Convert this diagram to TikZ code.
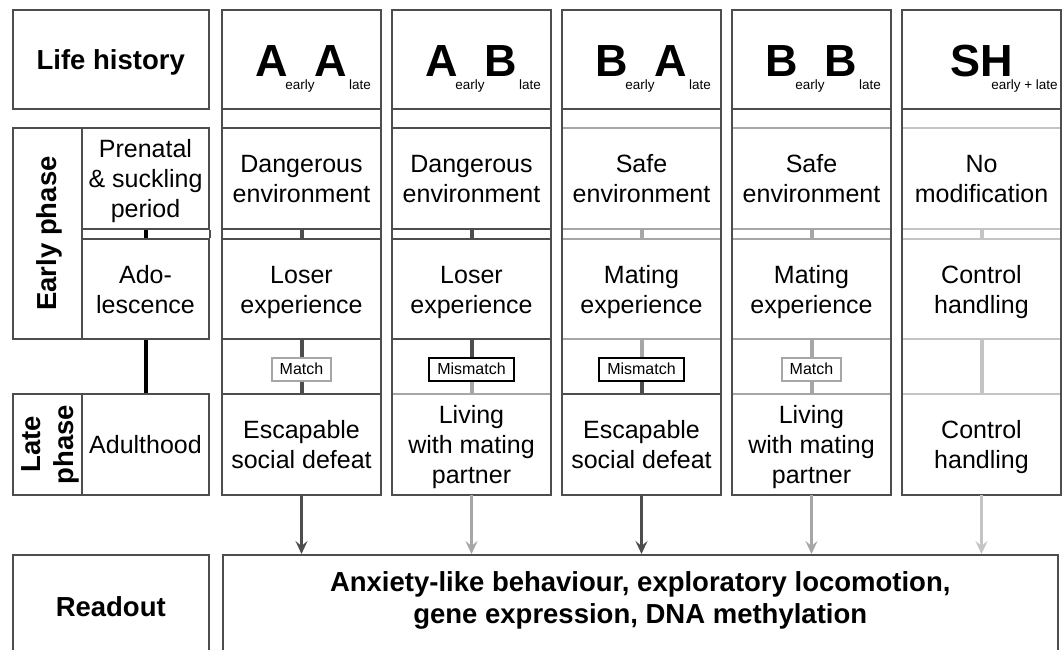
\documentclass[tikz,border=0pt]{standalone}
\usepackage{fontspec}
\setmainfont{Liberation Sans}
\usetikzlibrary{arrows.meta}
\definecolor{agray}{HTML}{4D4D4D}
\definecolor{bgray}{HTML}{A6A6A6}
\definecolor{shgray}{HTML}{C4C4C4}
\newcommand\cellfont{\fontsize{25}{30}\selectfont}
\newcommand\labfont{\fontsize{27.5}{33}\selectfont\bfseries}
\newcommand\hdrfont{\fontsize{45}{45}\selectfont\bfseries}
\newcommand\subfont{\mdseries\fontsize{13.5}{15}\selectfont}
\newcommand\tagfont{\fontsize{16}{18}\selectfont}
\newcommand\lifehist[2]{#1\kern-3pt\raisebox{-12.5pt}{\subfont early}#2\rlap{\kern2pt\raisebox{-12.5pt}{\subfont late}}}
\begin{document}
\begin{tikzpicture}[x=1pt,y=-1pt]
\tikzstyle{every node}+=[inner sep=0pt]
\tikzstyle{boxed}=[draw=agray,line width=2]
\tikzstyle{colframe}=[agray,line width=2]
\tikzstyle{rowline}=[line width=2]
\tikzstyle{joint}=[line width=4]
\tikzstyle{cell}=[minimum width=158,align=center,font=\cellfont,text height=23pt,text depth=5pt]
\tikzstyle{twolines}=[text height=53pt]
\tikzstyle{threelines}=[text height=83pt]
\tikzstyle{headrow}=[minimum height=98.5,font=\hdrfont,text height=34.5pt,text depth=0pt]
\tikzstyle{earlyrow}=[minimum height=101]
\tikzstyle{adorow}=[minimum height=100]
\tikzstyle{laterow}=[minimum height=101]
\tikzstyle{lab}=[font=\labfont,align=center,text height=25pt,text depth=6pt]
\tikzstyle{matchtag}=[draw=bgray,line width=2,fill=white,font=\tagfont,inner xsep=8pt,minimum height=23,text height=14.5pt,text depth=3.4pt]
\tikzstyle{mismatchtag}=[matchtag,draw=black]
\tikzstyle{readarrow}=[line width=3.5,-{Stealth[length=13pt,width=12pt,inset=5pt]}]
\useasboundingbox (0,0) rectangle (1063,650);
\fill[white] (0,0) rectangle (1063,650);

\node[boxed,lab,minimum width=196.5,minimum height=98.5] (lh) at (110.75,59.75) {Life history};
\node[boxed,lab,rotate=90,minimum width=211,minimum height=69.5] (ep) at (47.25,233.5) {Early phase};
\node[boxed,cell,earlyrow,threelines,minimum width=127] (pn) at (145.5,178.5) {Prenatal\\\& suckling\\period};
\node[boxed,cell,adorow,twolines,minimum width=127] (ad) at (145.5,289) {Ado-\\lescence};
\node[boxed,lab,rotate=90,text height=58pt,minimum width=101,minimum height=69.5] (lp) at (47.25,444.5) {Late\\phase};
\node[boxed,cell,laterow,minimum width=127] (ah) at (145.5,444.5) {Adulthood};
\draw[colframe] (pn.south east) -- (ad.north east);
\draw[joint,black] (pn) -- (ad) (ad) -- (ah);

\node[boxed,lab,minimum width=196.5,minimum height=103] (rd) at (110.75,606.5) {Readout};
\node[boxed,lab,font=\fontsize{27.5}{32}\selectfont\bfseries,text height=39pt,minimum width=835.5,minimum height=103] (ro) at (640.25,606.5) {Anxiety-like behaviour, exploratory locomotion,\\gene expression, DNA methylation};

\node[cell,headrow] (h1) at (301.5,59.75) {\lifehist{A}{A}};
\node[cell,earlyrow,twolines] (e1) at (301.5,178.5) {Dangerous\\environment};
\node[cell,adorow,twolines] (a1) at (301.5,289) {Loser\\experience};
\node[cell,laterow,twolines] (l1) at (301.5,444.5) {Escapable\\social defeat};
\node[matchtag] (m1) at (301.5,369) {Match};
\draw[rowline,agray] (e1.north west) -- (e1.north east) (e1.south west) -- (e1.south east) (a1.north west) -- (a1.north east) (a1.south west) -- (a1.south east);
\draw[rowline,agray] (l1.north west) -- (l1.north east);
\draw[joint,agray] (e1) -- (a1) (a1) -- (m1);
\draw[joint,agray] (m1) -- (l1);
\draw[colframe] (h1.north west) rectangle (l1.south east) (h1.south west) -- (h1.south east);
\draw[readarrow,agray] (l1) -- (l1 |- ro.north);

\node[cell,headrow] (h2) at (471.5,59.75) {\lifehist{A}{B}};
\node[cell,earlyrow,twolines] (e2) at (471.5,178.5) {Dangerous\\environment};
\node[cell,adorow,twolines] (a2) at (471.5,289) {Loser\\experience};
\node[cell,laterow,threelines] (l2) at (471.5,444.5) {Living\\with mating\\partner};
\node[mismatchtag] (m2) at (471.5,369) {Mismatch};
\draw[rowline,agray] (e2.north west) -- (e2.north east) (e2.south west) -- (e2.south east) (a2.north west) -- (a2.north east) (a2.south west) -- (a2.south east);
\draw[rowline,bgray] (l2.north west) -- (l2.north east);
\draw[joint,agray] (e2) -- (a2) (a2) -- (m2);
\draw[joint,bgray] (m2) -- (l2);
\draw[colframe] (h2.north west) rectangle (l2.south east) (h2.south west) -- (h2.south east);
\draw[readarrow,bgray] (l2) -- (l2 |- ro.north);

\node[cell,headrow] (h3) at (641.5,59.75) {\lifehist{B}{A}};
\node[cell,earlyrow,twolines] (e3) at (641.5,178.5) {Safe\\environment};
\node[cell,adorow,twolines] (a3) at (641.5,289) {Mating\\experience};
\node[cell,laterow,twolines] (l3) at (641.5,444.5) {Escapable\\social defeat};
\node[mismatchtag] (m3) at (641.5,369) {Mismatch};
\draw[rowline,bgray] (e3.north west) -- (e3.north east) (e3.south west) -- (e3.south east) (a3.north west) -- (a3.north east) (a3.south west) -- (a3.south east);
\draw[rowline,agray] (l3.north west) -- (l3.north east);
\draw[joint,bgray] (e3) -- (a3) (a3) -- (m3);
\draw[joint,agray] (m3) -- (l3);
\draw[colframe] (h3.north west) rectangle (l3.south east) (h3.south west) -- (h3.south east);
\draw[readarrow,agray] (l3) -- (l3 |- ro.north);

\node[cell,headrow] (h4) at (811.5,59.75) {\lifehist{B}{B}};
\node[cell,earlyrow,twolines] (e4) at (811.5,178.5) {Safe\\environment};
\node[cell,adorow,twolines] (a4) at (811.5,289) {Mating\\experience};
\node[cell,laterow,threelines] (l4) at (811.5,444.5) {Living\\with mating\\partner};
\node[matchtag] (m4) at (811.5,369) {Match};
\draw[rowline,bgray] (e4.north west) -- (e4.north east) (e4.south west) -- (e4.south east) (a4.north west) -- (a4.north east) (a4.south west) -- (a4.south east);
\draw[rowline,bgray] (l4.north west) -- (l4.north east);
\draw[joint,bgray] (e4) -- (a4) (a4) -- (m4);
\draw[joint,bgray] (m4) -- (l4);
\draw[colframe] (h4.north west) rectangle (l4.south east) (h4.south west) -- (h4.south east);
\draw[readarrow,bgray] (l4) -- (l4 |- ro.north);

\node[cell,headrow] (h5) at (981.5,59.75) {SH\rlap{\kern-21.5pt\raisebox{-12.5pt}{\subfont early + late}}};
\node[cell,earlyrow,twolines] (e5) at (981.5,178.5) {No\\modification};
\node[cell,adorow,twolines] (a5) at (981.5,289) {Control\\handling};
\node[cell,laterow,twolines] (l5) at (981.5,444.5) {Control\\handling};
\draw[rowline,shgray] (e5.north west) -- (e5.north east) (e5.south west) -- (e5.south east) (a5.north west) -- (a5.north east) (a5.south west) -- (a5.south east);
\draw[rowline,shgray] (l5.north west) -- (l5.north east);
\draw[joint,shgray] (e5) -- (a5) (a5) -- (l5);
\draw[colframe] (h5.north west) rectangle (l5.south east) (h5.south west) -- (h5.south east);
\draw[readarrow,shgray] (l5) -- (l5 |- ro.north);
\end{tikzpicture}
\end{document}
